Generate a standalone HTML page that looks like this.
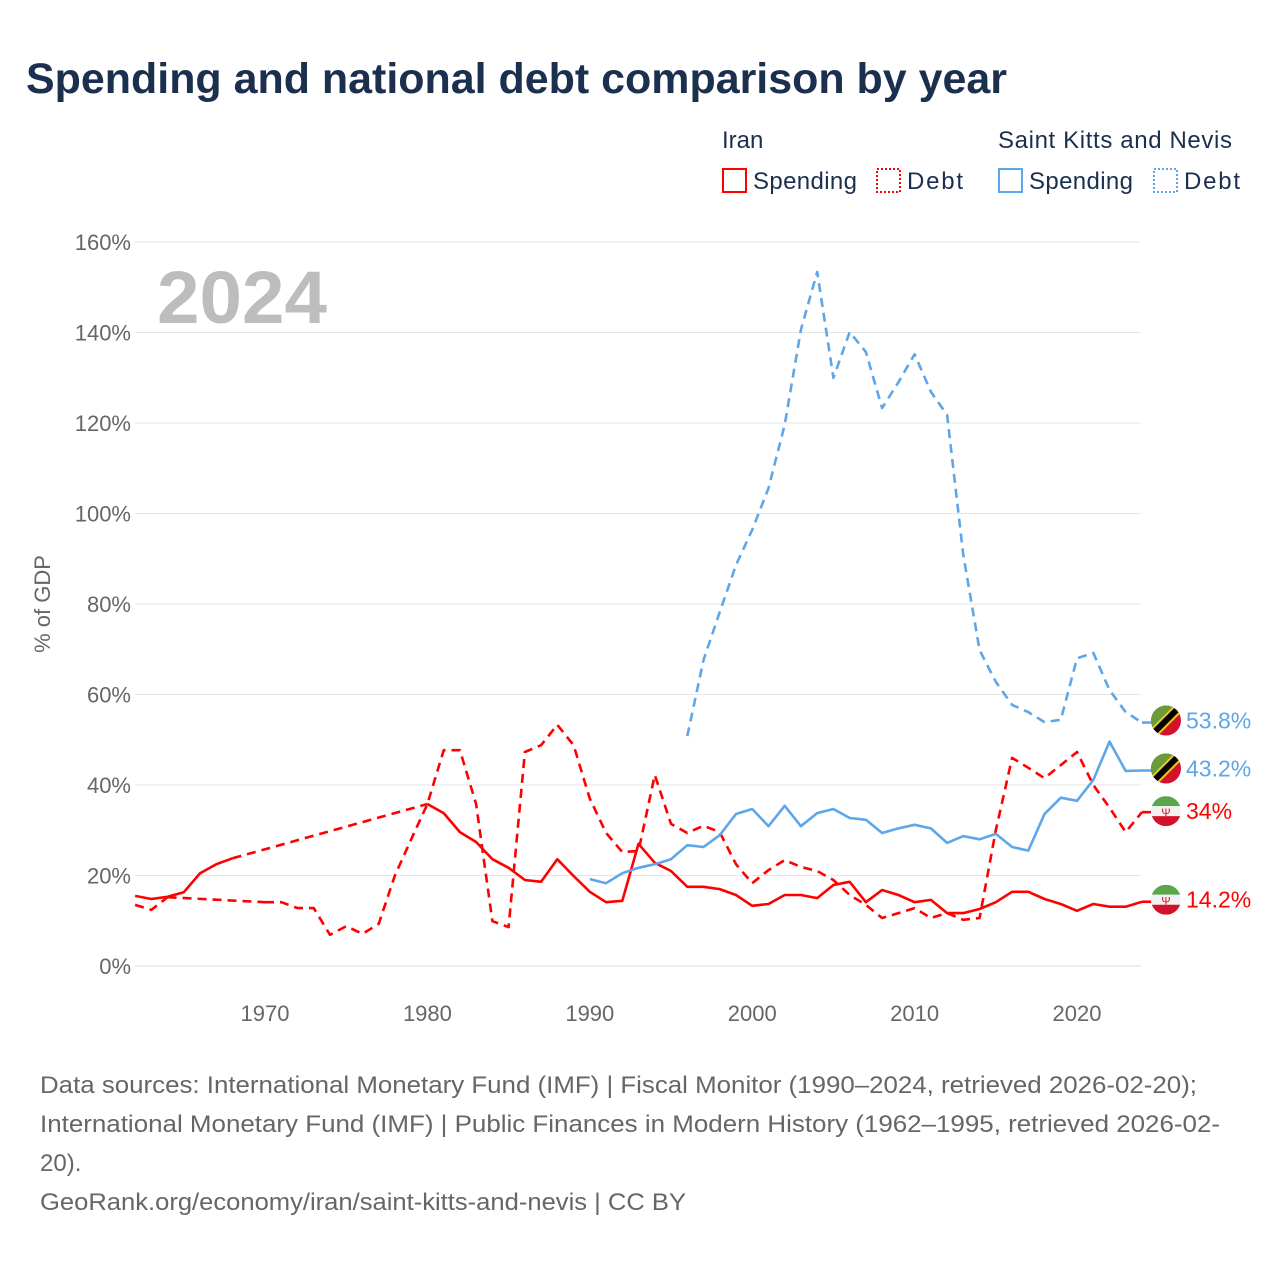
<!DOCTYPE html>
<html><head><meta charset="utf-8">
<style>
body{margin:0;background:#fff;font-family:"Liberation Sans",sans-serif;}
#wrap{position:relative;width:1280px;height:1280px;overflow:hidden;background:#fff}
</style></head>
<body>
<div id="wrap">
<svg id="chart" width="1280" height="1280" style="position:absolute;left:0;top:0">
<text x="26" y="93" font-size="43" font-weight="bold" fill="#1b2f4e" textLength="981" lengthAdjust="spacingAndGlyphs">Spending and national debt comparison by year</text>
<g font-size="24" fill="#1b2f4e">
<text x="722" y="148">Iran</text>
<text x="998" y="148" textLength="234">Saint Kitts and Nevis</text>
<g><rect x="723" y="169" width="23" height="23" fill="none" stroke="#ff0000" stroke-width="2"/><text x="753" y="189" textLength="104">Spending</text></g>
<g><rect x="877" y="169" width="23" height="23" fill="none" stroke="#ff0000" stroke-width="2" stroke-dasharray="2,2"/><text x="907" y="189" textLength="56">Debt</text></g>
<g><rect x="999" y="169" width="23" height="23" fill="none" stroke="#5ea6ea" stroke-width="2"/><text x="1029" y="189" textLength="104">Spending</text></g>
<g><rect x="1154" y="169" width="23" height="23" fill="none" stroke="#5ea6ea" stroke-width="2" stroke-dasharray="2,2"/><text x="1184" y="189" textLength="56">Debt</text></g>
</g>
<text x="157" y="323" font-size="74" font-weight="bold" fill="#bdbdbd" textLength="170" lengthAdjust="spacingAndGlyphs">2024</text>
<text transform="translate(50,604) rotate(-90)" text-anchor="middle" font-size="22" fill="#666">% of GDP</text>
<g id="grid"></g><g id="yticks"></g><g id="xticks"></g><g id="series"></g><g id="ends"></g>
<g font-size="24" fill="#666">
<text x="40" y="1093" textLength="1157" lengthAdjust="spacingAndGlyphs">Data sources: International Monetary Fund (IMF) | Fiscal Monitor (1990–2024, retrieved 2026-02-20);</text>
<text x="40" y="1132" textLength="1180" lengthAdjust="spacingAndGlyphs">International Monetary Fund (IMF) | Public Finances in Modern History (1962–1995, retrieved 2026-02-</text>
<text x="40" y="1171">20).</text>
<text x="40" y="1210" textLength="646" lengthAdjust="spacingAndGlyphs">GeoRank.org/economy/iran/saint-kitts-and-nevis | CC BY</text>
</g>
</svg>
</div>
<script>
const yTicks=[0,20,40,60,80,100,120,140,160];
const xTicks=[1970,1980,1990,2000,2010,2020];
const iranSpendYears=[1962,1963,1964,1965,1966,1967,1968,1980,1981,1982,1983,1984,1985,1986,1987,1988,1989,1990,1991,1992,1993,1994,1995,1996,1997,1998,1999,2000,2001,2002,2003,2004,2005,2006,2007,2008,2009,2010,2011,2012,2013,2014,2015,2016,2017,2018,2019,2020,2021,2022,2023,2024];
const iranSpend=[15.5,14.8,15.3,16.3,20.5,22.5,23.8,35.8,33.8,29.6,27.4,23.6,21.7,19.0,18.6,23.6,19.9,16.4,14.1,14.4,27.0,22.8,21.0,17.5,17.5,17.0,15.7,13.3,13.7,15.7,15.7,15.0,17.9,18.6,14.1,16.8,15.7,14.1,14.6,11.7,11.7,12.6,14.1,16.4,16.4,14.8,13.7,12.2,13.7,13.1,13.1,14.2];
const iranDebtYears=[1962,1963,1964,1970,1971,1972,1973,1974,1975,1976,1977,1978,1979,1980,1981,1982,1983,1984,1985,1986,1987,1988,1989,1990,1991,1992,1993,1994,1995,1996,1997,1998,1999,2000,2001,2002,2003,2004,2005,2006,2007,2008,2009,2010,2011,2012,2013,2014,2015,2016,2017,2018,2019,2020,2021,2022,2023,2024];
const iranDebt=[13.5,12.4,15.2,14.1,14.1,12.8,12.8,6.9,8.8,7.1,9.3,20,28,35.8,47.7,47.7,35.8,9.9,8.6,47.3,48.8,53.3,48.8,37.0,29.4,25.2,25.4,42.2,31.4,29.4,31.0,29.6,22.5,18.3,21.2,23.4,21.9,21.0,19.0,15.7,13.5,10.6,11.7,12.8,10.6,11.7,10.2,10.6,30.0,46.0,43.8,41.5,44.4,47.3,40.0,35.0,29.6,34.0];
const sknSpendYears=[1990,1991,1992,1993,1994,1995,1996,1997,1998,1999,2000,2001,2002,2003,2004,2005,2006,2007,2008,2009,2010,2011,2012,2013,2014,2015,2016,2017,2018,2019,2020,2021,2022,2023,2024];
const sknSpend=[19.2,18.3,20.5,21.7,22.5,23.6,26.7,26.3,28.9,33.6,34.7,30.9,35.4,30.9,33.8,34.7,32.7,32.3,29.4,30.4,31.2,30.4,27.2,28.7,28.0,29.2,26.3,25.5,33.6,37.2,36.5,41.1,49.6,43.1,43.2];
const sknDebtYears=[1996,1997,1998,1999,2000,2001,2002,2003,2004,2005,2006,2007,2008,2009,2010,2011,2012,2013,2014,2015,2016,2017,2018,2019,2020,2021,2022,2023,2024];
const sknDebt=[50.8,67.6,78.2,88.6,96.4,105.6,119.6,140.6,153.4,130.0,140.1,135.7,123.3,129.0,135.2,126.9,121.8,90.8,69.8,62.8,57.7,56.1,53.9,54.4,68.0,69.2,61.0,56.1,53.8];
const endLabels=["53.8%","43.2%","34%","14.2%"];

const NS="http://www.w3.org/2000/svg";
const X0=135.1, XPY=16.24, Y0=966, YPP=4.525;
const xs=y=>X0+(y-1962)*XPY, ys=v=>Y0-v*YPP;
function mk(tag,attrs,parent){const e=document.createElementNS(NS,tag);for(const k in attrs)e.setAttribute(k,attrs[k]);parent.appendChild(e);return e;}
const grid=document.getElementById('grid'),yt=document.getElementById('yticks'),xt=document.getElementById('xticks'),ser=document.getElementById('series'),ends=document.getElementById('ends');
yTicks.forEach(v=>{
 const l=mk('line',{x1:135,x2:1141,y1:ys(v),y2:ys(v),stroke:v===0?'#d8d8d8':'#e6e6e6','stroke-width':1},grid);
 
 
 const t=mk('text',{x:131,y:ys(v)+8,'text-anchor':'end','font-size':22,fill:'#666'},yt);
 t.textContent=v+'%';
 
 
});
xTicks.forEach(y=>{
 const t=mk('text',{x:xs(y),y:1021,'text-anchor':'middle','font-size':22,fill:'#666'},xt);
 t.textContent=y;
 
 
});
const DASH='9,6';
function drawSeries(years,vals,color,dashed,name){
 const g=mk('g',{},ser);
 
 
 let segs=[[]];const gaps=[];
 for(let i=0;i<years.length;i++){
  if(i>0&&years[i]-years[i-1]>1){gaps.push([i-1,i]);segs.push([]);}
  segs[segs.length-1].push(xs(years[i]).toFixed(1)+','+ys(vals[i]).toFixed(1));
 }
 segs.forEach(s=>{if(s.length>1)mk('polyline',{points:s.join(' '),fill:'none',stroke:color,'stroke-width':2.6,'stroke-linejoin':'round','stroke-dasharray':dashed?DASH:'none'},g);});
 gaps.forEach(([a,b])=>{mk('line',{x1:xs(years[a]),y1:ys(vals[a]),x2:xs(years[b]),y2:ys(vals[b]),stroke:color,'stroke-width':2.6,'stroke-dasharray':DASH},g);});
 const lv=vals[vals.length-1];
 mk('line',{x1:xs(years[years.length-1]),y1:ys(lv),x2:1152,y2:ys(lv),stroke:color,'stroke-width':2.6,'stroke-dasharray':dashed?DASH:'none'},g);
}
drawSeries(iranDebtYears,iranDebt,'#ff0000',true,'series-iran-debt');
drawSeries(iranSpendYears,iranSpend,'#ff0000',false,'series-iran-spending');
drawSeries(sknDebtYears,sknDebt,'#5ea6ea',true,'series-skn-debt');
drawSeries(sknSpendYears,sknSpend,'#5ea6ea',false,'series-skn-spending');

const endVals=[sknDebt[sknDebt.length-1],sknSpend[sknSpend.length-1],iranDebt[iranDebt.length-1],iranSpend[iranSpend.length-1]];
const endColors=['#5ea6ea','#5ea6ea','#ff0000','#ff0000'];
const endFlags=['skn','skn','iran','iran'];
const endNames=['end-label-skn-debt','end-label-skn-spending','end-label-iran-debt','end-label-iran-spending'];
let cid=0;
endVals.forEach((v,i)=>{
 let y=ys(v)-2; if(i===2)y=ys(v)-1;
 const g=mk('g',{},ends);
 
 
 const cx=1166,r=15;cid++;
 const clip=mk('clipPath',{id:'c'+cid},g);mk('circle',{cx:cx,cy:y,r:r},clip);
 const f=mk('g',{'clip-path':'url(#c'+cid+')'},g);
 if(endFlags[i]==='skn'){
  mk('rect',{x:cx-r,y:y-r,width:2*r,height:2*r,fill:'#d4112a'},f);
  mk('polygon',{points:`${cx-r},${y-r} ${cx+r},${y-r} ${cx-r},${y+r}`,fill:'#6b9a3a'},f);
  mk('line',{x1:cx-r,y1:y+r,x2:cx+r,y2:y-r,stroke:'#f5c518','stroke-width':10},f);
  mk('line',{x1:cx-r,y1:y+r,x2:cx+r,y2:y-r,stroke:'#000','stroke-width':6},f);
 }else{
  mk('rect',{x:cx-r,y:y-r,width:2*r,height:10,fill:'#5aa64a'},f);
  mk('rect',{x:cx-r,y:y-5,width:2*r,height:10,fill:'#f2f2f2'},f);
  mk('rect',{x:cx-r,y:y+5,width:2*r,height:10,fill:'#d4112a'},f);
  const e=mk('text',{x:cx,y:y+5,'text-anchor':'middle','font-size':11,fill:'#d4112a'},f);e.textContent='Ψ';
 }
 const t=mk('text',{x:1186,y:y+8,'font-size':23,fill:endColors[i]},g);
 t.textContent=endLabels[i];
});
</script>
</body></html>
